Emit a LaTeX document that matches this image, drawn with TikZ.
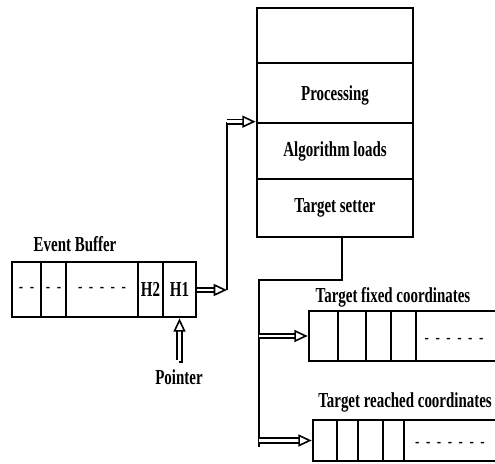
\documentclass[tikz,border=0pt]{standalone}
\usepackage{fontspec}
\setmainfont{Liberation Serif}[FakeStretch=0.70]
\usetikzlibrary{fit,arrows.meta}

\begin{document}
\begin{tikzpicture}[x=0.75pt,y=-0.75pt,
  box/.style={draw, line width=2pt, inner sep=0pt},
  lbl/.style={font=\fontsize{16}{19}\selectfont\bfseries, inner sep=0pt},
  dots/.style={font=\fontsize{14}{16}\selectfont, inner sep=0pt},
  wire/.style={line width=1.7pt},
  hollow/.style={draw, line width=1.2pt, double, double distance=2.2pt,
    -{Triangle[open,length=10pt,width=9pt,line width=1.2pt]}}
]
\useasboundingbox (0,0) rectangle (495,463);
\clip (0,0) rectangle (495,463);

% processing stack
\node[box, fit={(257,8) (413,63)}] (top) {};
\node[box, fit={(257,63) (413,123)}, label={[lbl, yshift=-1.5pt]center:Processing}] (proc) {};
\node[box, fit={(257,123) (413,179)}, label={[lbl]center:Algorithm loads}] (algo) {};
\node[box, fit={(257,179) (413,237)}, label={[lbl]center:Target setter}] (target) {};

% event buffer
\node[lbl] (evlabel) at (75,244) {Event Buffer};
\node[box, fit={(12,262) (41,317)}, label={[dots]center:-~~-}] (e1) {};
\node[box, fit={(41,262) (66,317)}, label={[dots]center:-~~-}] (e2) {};
\node[box, fit={(66,262) (138,317)}, label={[dots]center:-~~-~~-~~-~~-}] (e3) {};
\node[box, fit={(138,262) (163,317)}, label={[lbl]center:H2}] (h2) {};
\node[box, fit={(163,262) (196,317)}, label={[lbl]center:H1}] (h1) {};
\node[lbl] (ptr) at (179,377) {Pointer};

% target fixed coordinates
\node[lbl] (flabel) at (393,297) {Target fixed coordinates};
\node[box, fit={(309,311) (338,361)}] (f1) {};
\node[box, fit={(338,311) (366,361)}] (f2) {};
\node[box, fit={(366,311) (391,361)}] (f3) {};
\node[box, fit={(391,311) (416,361)}] (f4) {};
\node[box, fit={(416,311) (520,361)}] (f5) {};
\node[dots] (fdash) at (454,341) {-~~-~~-~~-~~-~~-};

% target reached coordinates
\node[lbl] (rlabel) at (405,402) {Target reached coordinates};
\node[box, fit={(313,420) (337,461)}] (r1) {};
\node[box, fit={(337,420) (358,461)}] (r2) {};
\node[box, fit={(358,420) (383,461)}] (r3) {};
\node[box, fit={(383,420) (404,461)}] (r4) {};
\node[box, fit={(404,420) (520,461)}] (r5) {};
\node[dots] (rdash) at (450,445) {-~~-~~-~~-~~-~~-~~-};

% buffer head to the processing stack
\coordinate (bend1) at (227,290);
\draw[hollow] (h1.east |- bend1) -- (bend1);
\draw[wire] (bend1) -- (bend1 |- algo.north west);
\draw[hollow] (bend1 |- algo.north west) -- (algo.north west);

% pointer
\coordinate (ptail) at (179,360);
\draw[hollow] (ptail) -- (h1.south |- ptail) -- (h1.south);

% target setter to the two coordinate buffers
\coordinate (t1) at (342,280);
\coordinate (t2) at (259,280);
\coordinate (t3) at (259,447);
\draw[wire] (target.south -| t1) -- (t1) -- (t2) -- (t3);
\draw[hollow] (t2 |- f1.west) -- (f1.west);
\draw[hollow] (t2 |- r1.west) -- (r1.west);
\end{tikzpicture}
\end{document}
